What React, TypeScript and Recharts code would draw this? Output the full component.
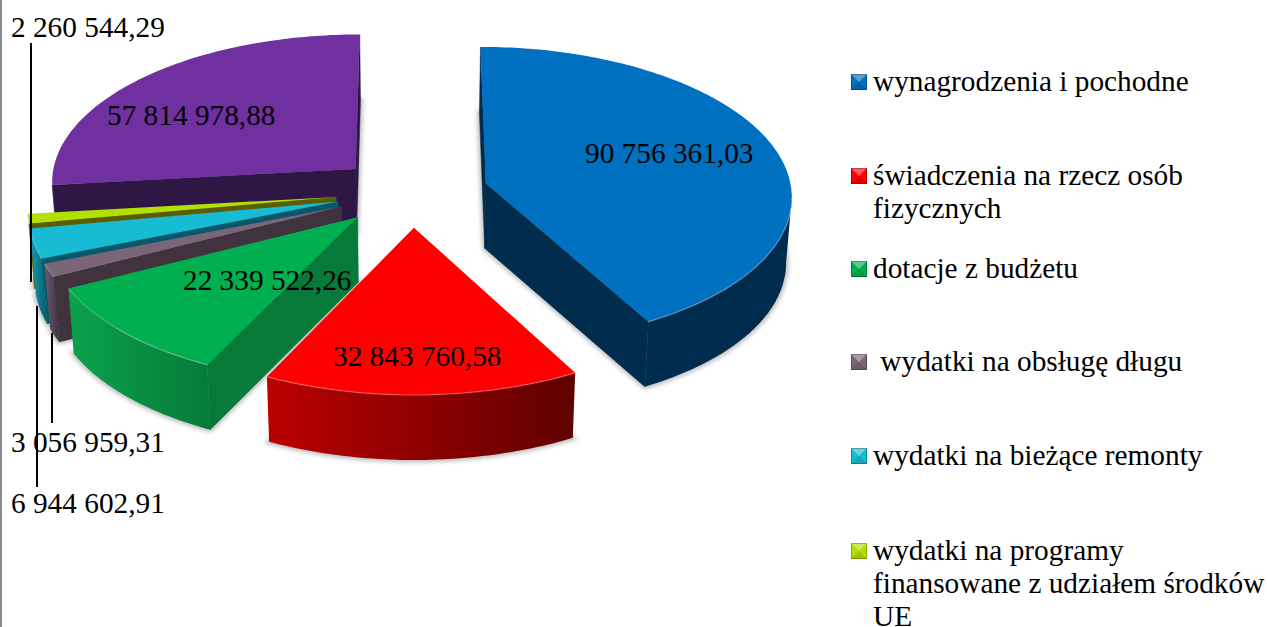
import { Legend, Pie, PieChart } from 'recharts';

const categories = [
  'wynagrodzenia i pochodne',
  'świadczenia na rzecz osób fizycznych',
  'dotacje z budżetu',
  ' wydatki na obsługę długu',
  'wydatki na bieżące remonty',
  'wydatki na programy finansowane z udziałem środków UE',
];
const amounts = [90756361.03, 32843760.58, 22339522.26, 3056959.31, 6944602.91, 2260544.29, 57814978.88];
const amountNames = [...categories, 'inne'];

const topColors = ['#0070c0', '#ff0000', '#00b050', '#7b6579', '#17bcd4', '#b2e000', '#7030a0'];
const wallColors = ['#002c4e', '#600000', '#067a38', '#40333d', '#07586a', '#5c5c00', '#2e1645'];
const rimColors = ['#002c4e', '#bb0000', '#0aa24c', '#6d5a73', '#12a2ba', '#8aa800', '#2e1645'];

// where the value labels go: x, baseline, and the leader line if there is one
const labelSpots = [
  { x: 585, y: 163 },
  { x: 333, y: 366 },
  { x: 183, y: 290 },
  { x: 11, y: 452, lineX: 52, lineY: [333, 423] },
  { x: 11, y: 513, lineX: 37, lineY: [306, 487] },
  { x: 11, y: 37, lineX: 31, lineY: [43, 282] },
  { x: 107, y: 125 },
];
const legendTops = [65, 159, 252, 345, 439, 534];

const WIDTH = 1267;
const HEIGHT = 627;
const FONT = '"Liberation Serif", "Times New Roman", serif';
const FONT_SIZE = 29.3;

// pie is painted back to front, so the list runs against the legend order
const drawOrder = amounts.map((_, i) => amounts.length - 1 - i);
const slices = drawOrder.map((i) => ({
  name: amountNames[i],
  value: amounts[i],
  fill: topColors[i],
  index: i,
}));

const EXPLODE_X = 0.25;
const EXPLODE_Y = 0.236;
const TILT = 0.485;
const PERSPECTIVE = 0.078;
const DEPTH = 65;
const BASE_SHRINK = 0.015;

type Pt = [number, number];

function project(cx: number, cy: number, r: number, wx: number, wy: number, wz: number): Pt {
  const s = 1 / (1 - PERSPECTIVE * wy);
  return [cx + wx * r * s * (1 - wz * BASE_SHRINK), cy + wy * r * TILT * s + wz * DEPTH];
}

const toPath = (pts: Pt[]) => `M${pts.map((p) => `${p[0].toFixed(1)},${p[1].toFixed(1)}`).join('L')}Z`;
const toLine = (pts: Pt[]) => `M${pts.map((p) => `${p[0].toFixed(1)},${p[1].toFixed(1)}`).join('L')}`;

function Slice3D(props: any) {
  const { cx, cy, outerRadius, startAngle, endAngle } = props;
  const i = props.index ?? props.payload?.index ?? 0;
  const idx = slices[i] ? slices[i].index : 0;
  const rad = Math.PI / 180;
  const from = 90 - endAngle;
  const to = 90 - startAngle;
  const mid = ((from + to) / 2) * rad;
  const ox = EXPLODE_X * Math.sin(mid);
  const oy = -EXPLODE_Y * Math.cos(mid);

  const steps = Math.max(4, Math.ceil(to - from));
  const ring = (wz: number) => {
    const pts: Pt[] = [];
    for (let k = 0; k <= steps; k++) {
      const a = (from + ((to - from) * k) / steps) * rad;
      pts.push(project(cx, cy, outerRadius, ox + Math.sin(a), oy - Math.cos(a), wz));
    }
    return pts;
  };
  const apex = (wz: number) => project(cx, cy, outerRadius, ox, oy, wz);

  const top = ring(0);
  const low = ring(1);
  const topOutline = [apex(0), ...top];
  const lowOutline = [apex(1), ...low];

  // an edge of the clockwise outline faces the viewer when it runs right to left
  const walls: string[] = [];
  if (top[0][0] < apex(0)[0]) walls.push(toPath([apex(0), top[0], low[0], apex(1)]));
  if (apex(0)[0] < top[steps][0]) walls.push(toPath([top[steps], apex(0), apex(1), low[steps]]));

  const runTop: Pt[] = [];
  const runLow: Pt[] = [];
  for (let k = 0; k < steps; k++) {
    if (top[k + 1][0] < top[k][0]) {
      if (!runTop.length) {
        runTop.push(top[k]);
        runLow.push(low[k]);
      }
      runTop.push(top[k + 1]);
      runLow.push(low[k + 1]);
    }
  }
  const rimId = `rim-${idx}`;
  const shadowId = `shade-${idx}`;

  return (
    <g>
      <defs>
        <linearGradient id={rimId} x1="0" y1="0" x2="1" y2="0">
          <stop offset="0" stopColor={rimColors[idx]} />
          <stop offset="1" stopColor={wallColors[idx]} />
        </linearGradient>
        <filter id={shadowId} x="-5%" y="-5%" width="110%" height="110%">
          <feGaussianBlur stdDeviation="2" />
        </filter>
      </defs>
      <path
        d={toPath(lowOutline)}
        fill="#000"
        stroke="#000"
        strokeWidth={5}
        opacity={0.25}
        filter={`url(#${shadowId})`}
      />
      {walls.map((d) => (
        <path key={d} d={d} fill={wallColors[idx]} stroke={wallColors[idx]} strokeWidth={0.5} />
      ))}
      {runTop.length > 1 && <path d={toPath([...runTop, ...[...runLow].reverse()])} fill={`url(#${rimId})`} />}
      <path d={toPath(topOutline)} fill={topColors[idx]} />
      {runTop.length > 1 && (
        <path d={toLine(runTop)} fill="none" stroke="#fff" strokeOpacity={0.22} strokeWidth={1.5} />
      )}
    </g>
  );
}

const formatAmount = (v: number) =>
  v
    .toFixed(2)
    .replace('.', ',')
    .replace(/\B(?=(\d{3})+(?!\d))/g, ' ');

function valueLabel(props: any) {
  const idx = slices[props.index].index;
  const spot = labelSpots[idx];
  return (
    <g key={idx}>
      {spot.lineX !== undefined && (
        <line x1={spot.lineX} x2={spot.lineX} y1={spot.lineY[0]} y2={spot.lineY[1]} stroke="#000" strokeWidth={2} />
      )}
      <text x={spot.x} y={spot.y} fontFamily={FONT} fontSize={FONT_SIZE} fill="#000">
        {formatAmount(amounts[idx])}
      </text>
    </g>
  );
}

function Swatch({ color }: { color: string }) {
  return (
    <svg width={16} height={16} style={{ position: 'absolute', left: 851, top: 0 }}>
      <rect width={16} height={16} fill={color} />
      <path d="M0,0L16,0L8,8Z" fill="#fff" fillOpacity={0.35} />
      <path d="M0,16L16,16L8,8Z" fill="#000" fillOpacity={0.12} />
      <rect x={0.5} y={0.5} width={15} height={15} fill="none" stroke="#000" strokeOpacity={0.25} />
    </svg>
  );
}

function ChartLegend() {
  return (
    <div style={{ position: 'relative', width: WIDTH, height: HEIGHT, fontFamily: FONT, fontSize: FONT_SIZE, color: '#000' }}>
      {categories.map((name, i) => (
        <div key={name} style={{ position: 'absolute', left: 0, top: legendTops[i], width: WIDTH }}>
          <div style={{ position: 'absolute', left: 0, top: 9 }}>
            <Swatch color={topColors[i]} />
          </div>
          <div style={{ position: 'absolute', left: 873, top: 0, width: 394, lineHeight: '33px', whiteSpace: 'pre-wrap' }}>
            {name}
          </div>
        </div>
      ))}
    </div>
  );
}

export default function App() {
  return (
    <div
      style={{
        position: 'absolute',
        left: 0,
        top: 0,
        width: WIDTH,
        height: HEIGHT,
        overflow: 'hidden',
        background: '#fff',
      }}
    >
      <div style={{ position: 'absolute', left: 0, top: 0, width: 2, height: HEIGHT, background: '#8c8c8c' }} />
      <PieChart width={WIDTH} height={HEIGHT} margin={{ top: 0, right: 0, bottom: 0, left: 0 }}>
        <Pie
          data={slices}
          dataKey="value"
          nameKey="name"
          cx={412}
          cy={192}
          outerRadius={306}
          startAngle={90}
          endAngle={450}
          stroke="none"
          label={valueLabel}
          labelLine={false}
          shape={Slice3D}
          isAnimationActive={false}
        />
        <Legend content={ChartLegend} wrapperStyle={{ left: 0, top: 0, width: WIDTH, height: HEIGHT }} />
      </PieChart>
    </div>
  );
}
